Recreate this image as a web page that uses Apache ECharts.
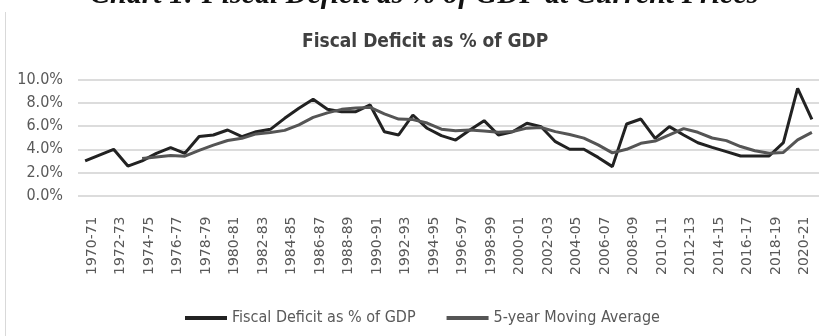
<!DOCTYPE html>
<html>
<head>
<meta charset="utf-8">
<script src="https://cdn.jsdelivr.net/npm/echarts@6/dist/echarts.min.js"></script>
<style>
html,body{margin:0;padding:0;background:#fff;}
#chart{width:829px;height:336px;}
</style>
</head>
<body>
<div id="chart"></div>
<script>
const categories = ["1970-71","1971-72","1972-73","1973-74","1974-75","1975-76","1976-77","1977-78","1978-79","1979-80",
"1980-81","1981-82","1982-83","1983-84","1984-85","1985-86","1986-87","1987-88","1988-89","1989-90",
"1990-91","1991-92","1992-93","1993-94","1994-95","1995-96","1996-97","1997-98","1998-99","1999-00",
"2000-01","2001-02","2002-03","2003-04","2004-05","2005-06","2006-07","2007-08","2008-09","2009-10",
"2010-11","2011-12","2012-13","2013-14","2014-15","2015-16","2016-17","2017-18","2018-19","2019-20",
"2020-21","2021-22"];
const fiscalDeficit = [3.0,3.5,4.0,2.55,3.0,3.65,4.14,3.65,5.1,5.24,
5.67,5.1,5.52,5.73,6.68,7.55,8.33,7.46,7.26,7.26,
7.84,5.52,5.24,6.97,5.82,5.18,4.8,5.67,6.48,5.24,
5.52,6.25,5.96,4.66,4.0,4.0,3.3,2.5,6.19,6.62,
4.95,5.96,5.24,4.57,4.17,3.8,3.42,3.42,3.42,4.57,
9.28,6.6];
const movingAverage = [null,null,null,null,3.21,3.34,3.47,3.40,3.91,4.36,
4.76,4.95,5.33,5.45,5.64,6.12,6.76,7.15,7.46,7.57,
7.63,7.07,6.62,6.57,6.27,5.74,5.60,5.68,5.59,5.47,
5.54,5.83,5.89,5.53,5.28,4.97,4.38,3.69,4.00,4.52,
4.71,5.24,5.79,5.47,4.98,4.75,4.24,3.88,3.65,3.73,
4.82,5.46];
const yTicks = [0,2,4,6,8,10];
const seriesNames = ["Fiscal Deficit as % of GDP","5-year Moving Average"];

const chart = echarts.init(document.getElementById('chart'), null, {renderer:'canvas'});
const narrow = '"Liberation Sans Narrow","DejaVu Sans Condensed",sans-serif';
chart.setOption({
  backgroundColor:'#ffffff',
  animation:false,
  title:{
    text:'Fiscal Deficit as % of GDP',
    left:297, top:28,
    textStyle:{fontFamily:narrow,fontWeight:'bold',fontSize:19,color:'#404040'}
  },
  graphic:[
    {type:'text', left:90, top:-20,
     style:{text:'Chart 1: Fiscal Deficit as % of GDP at Current Prices',
            font:'italic bold 30px "Liberation Serif", serif', fill:'#111'}},
    {type:'line', shape:{x1:5.5,y1:12,x2:5.5,y2:340}, style:{stroke:'#d9d9d9',lineWidth:1}}
  ],
  legend:{
    left:180, top:305,
    icon:'rect',
    itemWidth:42, itemHeight:4, itemGap:31,
    textStyle:{fontFamily:narrow,fontSize:16,color:'#595959'},
    data:seriesNames
  },
  grid:{left:78,right:10,top:80,bottom:140.5},
  xAxis:{
    type:'category', data:categories, boundaryGap:true,
    axisLine:{show:false}, axisTick:{show:false},
    axisLabel:{interval:1, rotate:90, margin:21, verticalAlign:'top', fontFamily:'"DejaVu Sans",sans-serif', fontSize:14, color:'#595959'}
  },
  yAxis:{
    type:'value', min:yTicks[0], max:yTicks[yTicks.length-1], interval:2,
    axisLine:{show:false}, axisTick:{show:false},
    splitLine:{lineStyle:{color:'#d0d0d0',width:1.5}},
    axisLabel:{margin:15, fontFamily:narrow, fontSize:16, color:'#595959',
      formatter:v=>v.toFixed(1)+'%'}
  },
  series:[
    {name:seriesNames[0], type:'line', data:fiscalDeficit, symbol:'none',
     lineStyle:{color:'#222222',width:3}, itemStyle:{color:'#222222'}},
    {name:seriesNames[1], type:'line', data:movingAverage, symbol:'none', connectNulls:false,
     lineStyle:{color:'#555555',width:3}, itemStyle:{color:'#555555'}}
  ]
});
</script>
</body>
</html>
